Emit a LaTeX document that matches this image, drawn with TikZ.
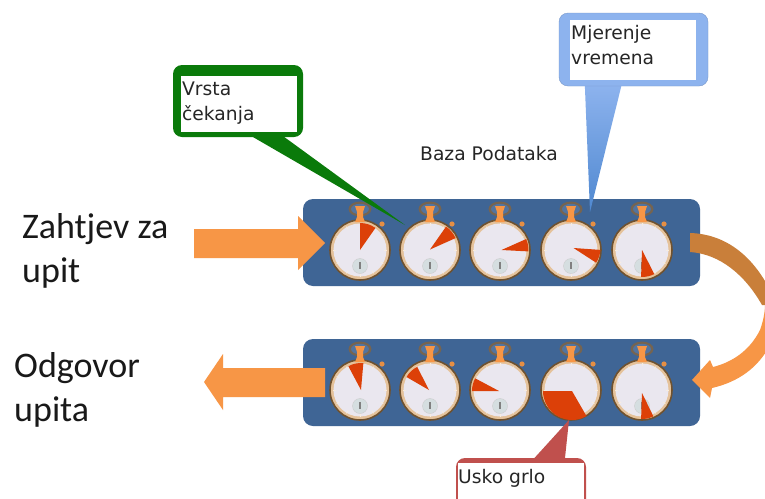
\documentclass[tikz,border=0pt]{standalone}
\usepackage{fontspec}
\setmainfont{DejaVu Sans}
\newfontfamily\bigfont{Carlito}
\usetikzlibrary{calc}
\definecolor{barblue}{HTML}{3F6595}
\definecolor{arroworange}{HTML}{F79646}
\definecolor{arrowbrown}{HTML}{C97F3A}
\definecolor{wedgered}{HTML}{DC4008}
\definecolor{calloutgreen}{HTML}{0A7A0A}
\definecolor{calloutblue}{HTML}{8DB3EE}
\definecolor{tailblue}{HTML}{4F88D0}
\definecolor{calloutred}{HTML}{C0504D}
\definecolor{rimbrown}{HTML}{6F5230}
\definecolor{rimlight}{HTML}{E5C29A}
\definecolor{facecol}{HTML}{EAE7EF}
\definecolor{dialcol}{HTML}{D5DEE0}
\tikzset{
  barbox/.style={rectangle,rounded corners=10pt,fill=barblue,minimum width=397pt,minimum height=87pt,inner sep=0pt},
  watchbody/.style={circle,fill=rimlight,draw=rimbrown,line width=1.6pt,minimum size=60pt,inner sep=0pt},
  smalltext/.style={anchor=base west,inner sep=0pt,font=\fontsize{18.7}{22}\selectfont,text=black!85},
  bigtext/.style={anchor=base west,inner sep=0pt,font=\bigfont\fontsize{36}{42}\selectfont,text=black!90},
  outerbox/.style={rectangle,rounded corners=9pt,inner sep=0pt},
  innerbox/.style={rectangle,fill=white,inner sep=0pt},
  flowarrow/.style={fill=arroworange}
}
% name, x, y, apex dx, apex dy, angle 1, angle 2, radius
\newcommand{\stopw}[8]{%
  \fill[rimbrown!60!gray] (#2,#3-41) ellipse [x radius=11.5, y radius=7.5];
  \fill[barblue!90!white] (#2,#3-41) ellipse [x radius=9, y radius=5.2];
  \node[watchbody] (#1) at (#2,#3) {};
  \fill[arroworange] (#2-5,#3-44) -- (#2+5,#3-44) -- (#2+3,#3-38) -- (#2+3,#3-33) -- (#2+5,#3-28) -- (#2-5,#3-28) -- (#2-3,#3-33) -- (#2-3,#3-38) -- cycle;
  \fill[arroworange!70!brown] (#2+22,#3-26) circle (2.6);
  \fill[facecol] (#2,#3) circle (26.5);
  \foreach \t in {0,30,...,330} \draw[white!70!rimlight,line width=1pt] ($(#2,#3)+(\t:24)$) -- ($(#2,#3)+(\t:27)$);
  \fill[dialcol,draw=gray!40] (#2,#3+16) circle (7.5);
  \fill[gray] (#2-.7,#3+12) rectangle (#2+.7,#3+19);
  \fill[wedgered] (#2+#4,#3+#5) -- +(-#6:#8) arc[start angle=-#6,end angle=-#7,radius=#8] -- cycle;
}
\begin{document}
\begin{tikzpicture}[x=1pt,y=-1pt]
\useasboundingbox (0,0) rectangle (765,498);
\clip (0,0) rectangle (765,498);
\fill[white] (0,0) rectangle (765,498);

\node[barbox] (topbar) at (501.5,242.5) {};
\node[barbox] (botbar) at (501.5,382.5) {};

\stopw{ta}{360}{250}{0}{0}{90}{55}{27}
\stopw{tb}{430}{250}{0}{-.5}{55}{24}{28}
\stopw{tc}{500}{250}{1.5}{0}{24}{-3}{27}
\stopw{td}{571}{250}{2.5}{-2}{-4}{-33}{27}
\stopw{te}{642}{250}{0}{0}{-92}{-63}{27}
\stopw{ba}{360}{390}{1}{0}{118}{85}{27}
\stopw{bb}{430}{390}{-1}{0}{150}{117}{26}
\stopw{bc}{500}{390}{-1}{1}{180}{152}{27}
\stopw{bd}{571}{390}{1}{1}{180}{300}{29}
\stopw{be}{642}{390}{0}{3}{-92}{-64}{26}

% straight arrows
\fill[flowarrow] (194,229) -- (298,229) -- (298,216) -- (325,243) -- (298,270) -- (298,258) -- (194,258) -- cycle;
\fill[flowarrow] (325,368) -- (223,368) -- (223,354) -- (204,382) -- (223,410) -- (223,397) -- (325,397) -- cycle;

% curved arrow
\fill[arrowbrown] (690,233) .. controls (725,234) and (752,255) .. (770,290) -- (770,305) -- (762,305) .. controls (745,275) and (720,254) .. (690,252) -- cycle;
\fill[arroworange] (770,305) -- (770,345) .. controls (758,368) and (738,382) .. (712,388) -- (710,398) -- (692,380) -- (710,360) -- (713,367) .. controls (733,362) and (750,350) .. (760,330) .. controls (763,322) and (765,312) .. (765,305) -- cycle;

% green callout
\node[outerbox,fill=calloutgreen,minimum width=130pt,minimum height=72pt] (green) at (238,101) {};
\coordinate (greentip) at (405,225);
\fill[calloutgreen] ($(green.south west)+(77,-2)$) -- (greentip) -- ($(green.south west)+(109,-2)$) -- cycle;
\node[innerbox,minimum width=116pt,minimum height=56pt] (greenin) at (239,104) {};
\node[smalltext] (vrsta) at (182,95) {Vrsta};
\node[smalltext] (cekanja) at (182,120) {čekanja};

% blue callout
\coordinate (bluetip) at (590,212);
\node[outerbox,minimum width=149pt,minimum height=73pt] (blue) at (633.5,49.5) {};
\shade[top color=calloutblue,bottom color=tailblue] ($(blue.south west)+(26,-2)$) -- (bluetip) -- ($(blue.south west)+(63,-2)$) -- cycle;
\node[outerbox,fill=calloutblue,draw=calloutblue!85!black,minimum width=149pt,minimum height=73pt] at (633.5,49.5) {};
\node[innerbox,minimum width=126pt,minimum height=60pt] (bluein) at (633,50) {};
\node[smalltext] (mjerenje) at (571,39) {Mjerenje};
\node[smalltext] (vremena) at (571,64) {vremena};

% red callout
\coordinate (redtip) at (569,420);
\node[outerbox,fill=calloutred,minimum width=130pt,minimum height=70pt] (red) at (521,493) {};
\fill[calloutred] ($(red.north west)+(77,2)$) -- (redtip) -- ($(red.north west)+(109,2)$) -- cycle;
\node[innerbox,minimum width=126pt,minimum height=50pt] (redin) at (521,488) {};
\node[smalltext] (usko) at (458,483) {Usko grlo};

\node[smalltext] (baza) at (420,160) {Baza Podataka};
\node[bigtext] (zahtjev) at (22,238) {Zahtjev za};
\node[bigtext] (upit) at (22,282) {upit};
\node[bigtext] (odgovor) at (14,377) {Odgovor};
\node[bigtext] (upita) at (14,421) {upita};
\end{tikzpicture}
\end{document}
